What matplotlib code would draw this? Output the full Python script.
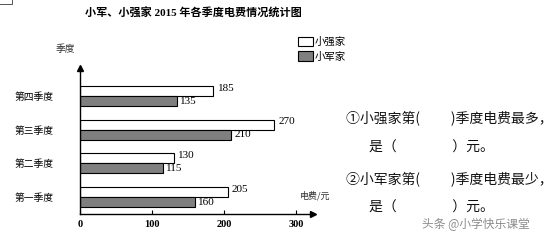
import matplotlib
matplotlib.use("Agg")
import numpy as np
from matplotlib import pyplot as plt
from matplotlib.lines import Line2D

# data
quarters = ["第一季度", "第二季度", "第三季度", "第四季度"]
xiaoqiang = [205, 130, 270, 185]
xiaojun = [160, 115, 210, 135]
xticks = [0, 100, 200, 300]

title = "小军、小强家 2015 年各季度电费情况统计图"
questions = [
    "①小强家第(　　 )季度电费最多，",
    "是（　　　　）元。",
    "②小军家第(　　 )季度电费最少，",
    "是（　　　　）元。",
]

cjk = ["Noto Sans CJK SC", "DejaVu Sans"]
serif_cjk = ["Liberation Serif", "Noto Sans CJK SC"]

fig = plt.figure(figsize=(5.6, 2.41), dpi=100)
fig.patch.set_facecolor("white")

ax = fig.add_axes([80 / 560, 27 / 241, 233 / 560, 146 / 241])
y = np.arange(len(quarters))
h = 0.3

ax.barh(y + h / 2, xiaoqiang, height=h, color="white", edgecolor="black", linewidth=0.8, label="小强家")
ax.barh(y - h / 2, xiaojun, height=h, color="#7f7f7f", edgecolor="black", linewidth=0.8, label="小军家")

for yi, v in zip(y, xiaoqiang):
    ax.text(v + 6, yi + h / 2 + 0.08, str(v), va="center", ha="left",
            fontsize=8, family="Liberation Serif")
for yi, v in zip(y, xiaojun):
    ax.text(v + 4, yi - h / 2, str(v), va="center", ha="left",
            fontsize=8, family="Liberation Serif")

ax.set_xlim(0, 323.6)
ax.set_ylim(-0.505, 3.83)
for s in ["top", "right"]:
    ax.spines[s].set_visible(False)
ax.spines["left"].set_linewidth(1.0)
ax.spines["bottom"].set_linewidth(1.0)

ax.set_xticks(xticks)
ax.set_xticklabels([str(t) for t in xticks], family="Liberation Serif", fontweight="bold", fontsize=7.5)
ax.tick_params(axis="x", direction="in", length=3, pad=4)
ax.set_yticks(y)
ax.set_yticklabels(quarters, family=cjk, fontsize=7)
ax.tick_params(axis="y", length=0, pad=19)

# arrow heads
ax.plot([1], [0], marker=">", color="black", markersize=4, transform=ax.transAxes, clip_on=False)
ax.plot([0], [1], marker="^", color="black", markersize=4, transform=ax.transAxes, clip_on=False)

ax.text(-0.02, 1.13, "季度", transform=ax.transAxes, ha="right", va="center",
        family=cjk, fontsize=7, color="#333333")
fig.text(300 / 560, 1 - 196 / 241, "电费/元", ha="left", va="center",
         family=cjk, fontsize=6.5, color="#333333")

leg = fig.legend(loc="upper left", bbox_to_anchor=(298 / 560, 1 - 37 / 241),
                 frameon=False, prop={"family": cjk, "size": 7.5},
                 handlelength=1.4, handleheight=1.0, handletextpad=0.15,
                 labelspacing=0.4, borderaxespad=0, borderpad=0)

fig.text(193 / 560, 1 - 13 / 241, title, ha="center", va="center",
         family=serif_cjk, fontweight="bold", fontsize=8)

line_pos = [(346, 118), (369, 148), (346, 179), (369, 208)]
for (px, py), q in zip(line_pos, questions):
    fig.text(px / 560, 1 - py / 241, q, ha="left", va="center",
             family=cjk, fontsize=10, color="#111111")

fig.text(422 / 560, 1 - 225 / 241, "头条 @小学快乐课堂", ha="left", va="center",
         family=cjk, fontsize=8.5, color="#8c8c8c")

# corner frame fragment in top-left
fig.add_artist(Line2D([0, 12 / 560, 12 / 560], [1 - 4 / 241, 1 - 4 / 241, 1],
                      color="#555555", linewidth=0.7))

fig.savefig("out.png", dpi=100, facecolor="white")
